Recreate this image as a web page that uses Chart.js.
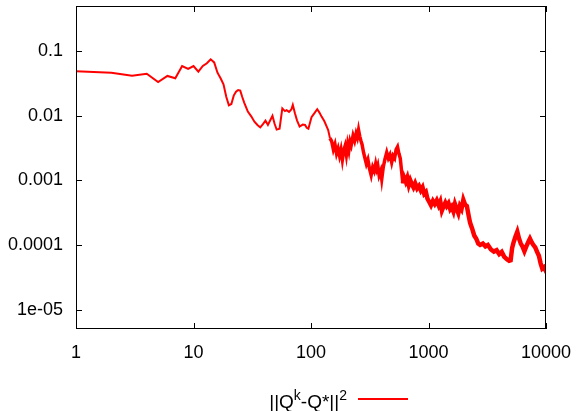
<!DOCTYPE html>
<html>
<head>
<meta charset="utf-8">
<script src="https://cdn.jsdelivr.net/npm/chart.js@4.4.1/dist/chart.umd.min.js"></script>
<style>
  html, body { margin: 0; padding: 0; background: #fff; }
  #wrap { width: 576px; height: 411px; }
</style>
</head>
<body>
<div id="wrap"><canvas id="chart"></canvas></div>
<script>
// iteration number k and the residual ||Q^k - Q*||^2
const iterK = [
  1, 2, 3, 4, 5, 6, 7, 8, 9, 10, 11, 12, 13, 14, 15, 16, 17, 18, 19, 20,
  21, 22, 23, 24, 25, 26, 27, 29, 31, 33, 35, 37, 39, 41, 43, 45, 47, 49, 51, 54,
  57, 60, 62, 65, 68, 70, 73, 76, 80, 85, 89, 92, 95, 101, 107, 113, 118, 123, 130, 136,
  140, 145, 150, 155, 160, 165, 170, 175, 180, 185, 190, 195, 200, 205, 210, 215, 220, 228, 235, 242,
  248, 254, 260, 266, 272, 280, 288, 296, 305, 315, 325, 335, 345, 355, 362, 370, 380, 392, 400, 412,
  425, 441, 455, 470, 486, 500, 515, 530, 545, 560, 575, 590, 605, 620, 640, 660, 680, 700, 720, 745,
  770, 800, 830, 860, 890, 920, 950, 980, 1010, 1050, 1090, 1130, 1175, 1220, 1260, 1300, 1340, 1390, 1430, 1480,
  1530, 1575, 1630, 1680, 1740, 1795, 1850, 1910, 1980, 2050, 2120, 2200, 2260, 2350, 2450, 2550, 2650, 2750, 2900, 3050,
  3200, 3400, 3600, 3800, 4000, 4200, 4400, 4650, 4850, 5000, 5150, 5300, 5500, 5700, 5900, 6100, 6300, 6550, 6800, 7050,
  7300, 7550, 7800, 8100, 8400, 8700, 9000, 9300, 9600, 9800, 10000
];
const residual = [
  0.049, 0.0464, 0.0417, 0.0448, 0.0333, 0.0413, 0.038, 0.0589, 0.053, 0.0589, 0.0481, 0.059, 0.065, 0.0748, 0.067, 0.0464, 0.038, 0.0307, 0.0197, 0.0145,
  0.0152, 0.0205, 0.0235, 0.025, 0.0245, 0.0195, 0.016, 0.0116, 0.0098, 0.0081, 0.0072, 0.0066, 0.0074, 0.0084, 0.0072, 0.0085, 0.010, 0.0075, 0.0061, 0.0063,
  0.013, 0.0118, 0.0122, 0.0115, 0.0125, 0.0147, 0.0109, 0.0085, 0.0068, 0.0073, 0.0072, 0.0065, 0.0063, 0.0095, 0.011, 0.0126, 0.0112, 0.0097, 0.0082, 0.0068,
  0.006, 0.0045, 0.004, 0.003, 0.0036, 0.0026, 0.0031, 0.0024, 0.003, 0.0021, 0.0029, 0.0034, 0.0025, 0.0036, 0.0029, 0.004, 0.0035, 0.0049, 0.0041, 0.0053,
  0.0046, 0.006, 0.0048, 0.0041, 0.0036, 0.0027, 0.0022, 0.0018, 0.0021, 0.0015, 0.0012, 0.0016, 0.0014, 0.0018, 0.0015, 0.0017, 0.0012, 0.0014, 0.00105, 0.0016,
  0.0021, 0.0027, 0.0022, 0.0025, 0.0019, 0.0024, 0.0022, 0.003, 0.0033, 0.0026, 0.0022, 0.0014, 0.0009, 0.0011, 0.00095, 0.0011, 0.00085, 0.001, 0.00088, 0.00078,
  0.0009, 0.00075, 0.00082, 0.0007, 0.00078, 0.00062, 0.00066, 0.00052, 0.00047, 0.00041, 0.00048, 0.00043, 0.00049, 0.00041, 0.00047, 0.00034, 0.00039, 0.00045, 0.0004, 0.00044,
  0.00036, 0.00039, 0.00033, 0.00043, 0.00036, 0.00031, 0.0004, 0.00036, 0.0005, 0.00042, 0.0004, 0.00028, 0.00022, 0.00018, 0.00014, 0.000125, 0.000105, 0.0001, 0.000105, 0.000095,
  0.0001, 0.000085, 0.000079, 0.000083, 0.000072, 0.000078, 0.000066, 0.00006, 0.000057, 0.000058, 0.00009, 0.00011, 0.000135, 0.00016, 0.000125, 0.000105, 0.000095, 0.00008, 0.000095, 0.00011,
  0.000125, 0.00011, 0.0001, 0.000092, 0.000078, 0.000068, 0.000052, 0.000043, 0.000045, 0.000042, 0.00005
];

const xTickValues = [1, 10, 100, 1000, 10000];
const xTickLabels = ['1', '10', '100', '1000', '10000'];
const yTickValues = [1e-5, 1e-4, 1e-3, 1e-2, 0.1];
const yTickLabels = ['1e-05', '0.0001', '0.001', '0.01', '0.1'];

// key text, pieces flagged as superscript
const legendParts = [['||Q', false], ['k', true], ['-Q*||', false], ['2', true]];
const seriesLabel = '||Qᵏ-Q*||²';

const FONT = '"Liberation Sans", Arial, sans-serif';

function majorIndex(values, v) {
  return values.findIndex(t => Math.abs(Math.log10(v) - Math.log10(t)) < 1e-6);
}

// gnuplot style frame with inward ticks on all four sides, plus the key
const framePlugin = {
  id: 'frame',
  afterDraw(chart) {
    const { ctx, chartArea: a, scales } = chart;
    ctx.save();
    ctx.strokeStyle = '#000';
    ctx.lineWidth = 1;
    ctx.strokeRect(a.left + 0.5, a.top + 0.5, a.right - a.left - 1, a.bottom - a.top - 1);

    ctx.beginPath();
    scales.x.ticks.forEach(t => {
      const px = Math.round(scales.x.getPixelForValue(t.value)) + 0.5;
      const len = majorIndex(xTickValues, t.value) >= 0 ? 6 : 3;
      ctx.moveTo(px, a.bottom); ctx.lineTo(px, a.bottom - len);
      ctx.moveTo(px, a.top); ctx.lineTo(px, a.top + len);
    });
    scales.y.ticks.forEach(t => {
      const py = Math.round(scales.y.getPixelForValue(t.value)) + 0.5;
      const len = majorIndex(yTickValues, t.value) >= 0 ? 6 : 3;
      ctx.moveTo(a.left, py); ctx.lineTo(a.left + len, py);
      ctx.moveTo(a.right, py); ctx.lineTo(a.right - len, py);
    });
    ctx.stroke();

    // key
    const baseFont = '19px ' + FONT;
    const supFont = '14px ' + FONT;
    let total = 0;
    legendParts.forEach(([txt, sup]) => {
      ctx.font = sup ? supFont : baseFont;
      total += ctx.measureText(txt).width;
    });
    let x = 347 - total;
    ctx.fillStyle = '#000';
    ctx.textBaseline = 'alphabetic';
    ctx.textAlign = 'left';
    legendParts.forEach(([txt, sup]) => {
      ctx.font = sup ? supFont : baseFont;
      ctx.fillText(txt, x, sup ? 400 : 408);
      x += ctx.measureText(txt).width;
    });
    const ds = chart.data.datasets[0];
    ctx.strokeStyle = ds.borderColor;
    ctx.lineWidth = 2;
    ctx.beginPath();
    ctx.moveTo(358, 399);
    ctx.lineTo(408, 399);
    ctx.stroke();
    ctx.restore();
  }
};

new Chart(document.getElementById('chart'), {
  type: 'line',
  data: {
    datasets: [{
      label: seriesLabel,
      data: iterK.map((k, i) => ({ x: k, y: residual[i] })),
      borderColor: '#ff0000',
      borderWidth: 2,
      pointRadius: 0,
      tension: 0,
      segment: {
        // the plotted series is noisy past ~150 iterations, so the trace looks thicker there
        borderWidth: c => c.p0.parsed.x >= 600 ? 4.5 : (c.p0.parsed.x >= 145 ? 3.5 : 2)
      }
    }]
  },
  options: {
    responsive: true,
    maintainAspectRatio: false,
    animation: false,
    devicePixelRatio: 1,
    layout: { padding: { top: 6, right: 30, bottom: 42, left: 0 } },
    plugins: {
      legend: { display: false },
      tooltip: { enabled: false }
    },
    scales: {
      x: {
        type: 'logarithmic',
        min: 1,
        max: 10000,
        grid: { display: false, drawTicks: false },
        border: { display: false },
        afterFit: s => {
          s.height = 40;
          s.paddingLeft = 0;
          s.paddingRight = 0;
        },
        ticks: {
          autoSkip: false,
          maxRotation: 0,
          padding: 13,
          color: '#000',
          font: { family: FONT, size: 18 },
          callback: v => {
            const i = majorIndex(xTickValues, v);
            return i >= 0 ? xTickLabels[i] : null;
          }
        }
      },
      y: {
        type: 'logarithmic',
        min: 5e-6,
        max: 0.5,
        grid: { display: false, drawTicks: false },
        border: { display: false },
        afterFit: s => {
          s.width = 76;
          s.paddingTop = 0;
          s.paddingBottom = 0;
        },
        ticks: {
          autoSkip: false,
          padding: 13,
          color: '#000',
          font: { family: FONT, size: 18 },
          callback: v => {
            const i = majorIndex(yTickValues, v);
            return i >= 0 ? yTickLabels[i] : null;
          }
        }
      }
    }
  },
  plugins: [framePlugin]
});
</script>
</body>
</html>
